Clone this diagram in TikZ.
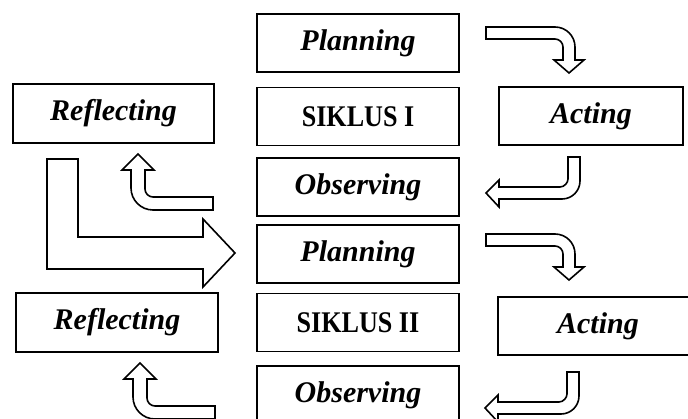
\documentclass[tikz,border=0pt]{standalone}
\usepackage{fontspec}
\setmainfont{Liberation Serif}
\newfontfamily\cyclefont[FakeStretch=0.87]{Liberation Serif}
\begin{document}
\begin{tikzpicture}[x=1pt,y=-1pt,
  stagebox/.style={draw,line width=1.7pt,inner sep=0pt,minimum height=58pt,
    font=\fontsize{30}{36}\selectfont\bfseries\itshape},
  cyclebox/.style={stagebox,font=\fontsize{30}{36}\selectfont\cyclefont\bfseries},
  blockarrow/.style={draw,line width=1.6pt,fill=white,line join=miter}]
\useasboundingbox (0,0) rectangle (688,419);

% central column
\node[stagebox,minimum width=202pt] (plan1) at (358,43) {Planning};
\node[cyclebox,minimum width=202pt] (cyc1) at (358,116.5) {SIKLUS I};
\node[stagebox,minimum width=202pt] (obs1) at (358,187) {Observing};
\node[stagebox,minimum width=202pt] (plan2) at (358,254) {Planning};
\node[cyclebox,minimum width=202pt] (cyc2) at (358,322.5) {SIKLUS II};
\node[stagebox,minimum width=202pt] (obs2) at (358,395) {Observing};

% side boxes
\node[stagebox,minimum width=201pt,minimum height=59pt] (refl1) at (113.5,113.5) {Reflecting};
\node[stagebox,minimum width=184pt] (act1) at (591,116) {Acting};
\node[stagebox,minimum width=202pt,minimum height=59pt] (refl2) at (117,322.5) {Reflecting};
\node[stagebox,minimum width=200pt] (act2) at (598,326) {Acting};

% planning -> acting (bent down)
\foreach \dy in {0,207}{
\begin{scope}[shift={(0,\dy)}]
\draw[blockarrow] (486,27) -- (555,27) .. controls (566.05,27) and (575,35.95) .. (575,47)
  -- (575,60) -- (584,60) -- (569,73) -- (554,60) -- (563,60) -- (563,47)
  .. controls (563,42.58) and (559.42,39) .. (555,39) -- (486,39) -- cycle;
\end{scope}}

% acting -> observing (bent left)
\foreach \dx/\dy in {0/0,-1/215}{
\begin{scope}[shift={(\dx,\dy)}]
\draw[blockarrow] (568,157) -- (580,157) -- (580,181)
  .. controls (580,190.94) and (571.94,199) .. (562,199)
  -- (499,199) -- (499,207) -- (486,193) -- (499,180) -- (499,187) -- (560,187)
  .. controls (564.42,187) and (568,182.58) .. (568,179) -- cycle;
\end{scope}}

% observing -> reflecting (bent up)
\foreach \dx/\dy in {0/0,2/209}{
\begin{scope}[shift={(\dx,\dy)}]
\draw[blockarrow] (213,197) -- (153,197)
  .. controls (148.58,197) and (145,193.42) .. (145,189)
  -- (145,170) -- (154,170) -- (138,154) -- (122,170) -- (131,170) -- (131,188)
  .. controls (131,200.15) and (140.85,210) .. (153,210) -- (213,210) -- cycle;
\end{scope}}

% reflecting I -> planning II
\draw[blockarrow] (47,159) -- (78,159) -- (78,237) -- (203,237) -- (203,219)
  -- (235,253) -- (203,287) -- (203,269) -- (47,269) -- cycle;
\end{tikzpicture}
\end{document}
